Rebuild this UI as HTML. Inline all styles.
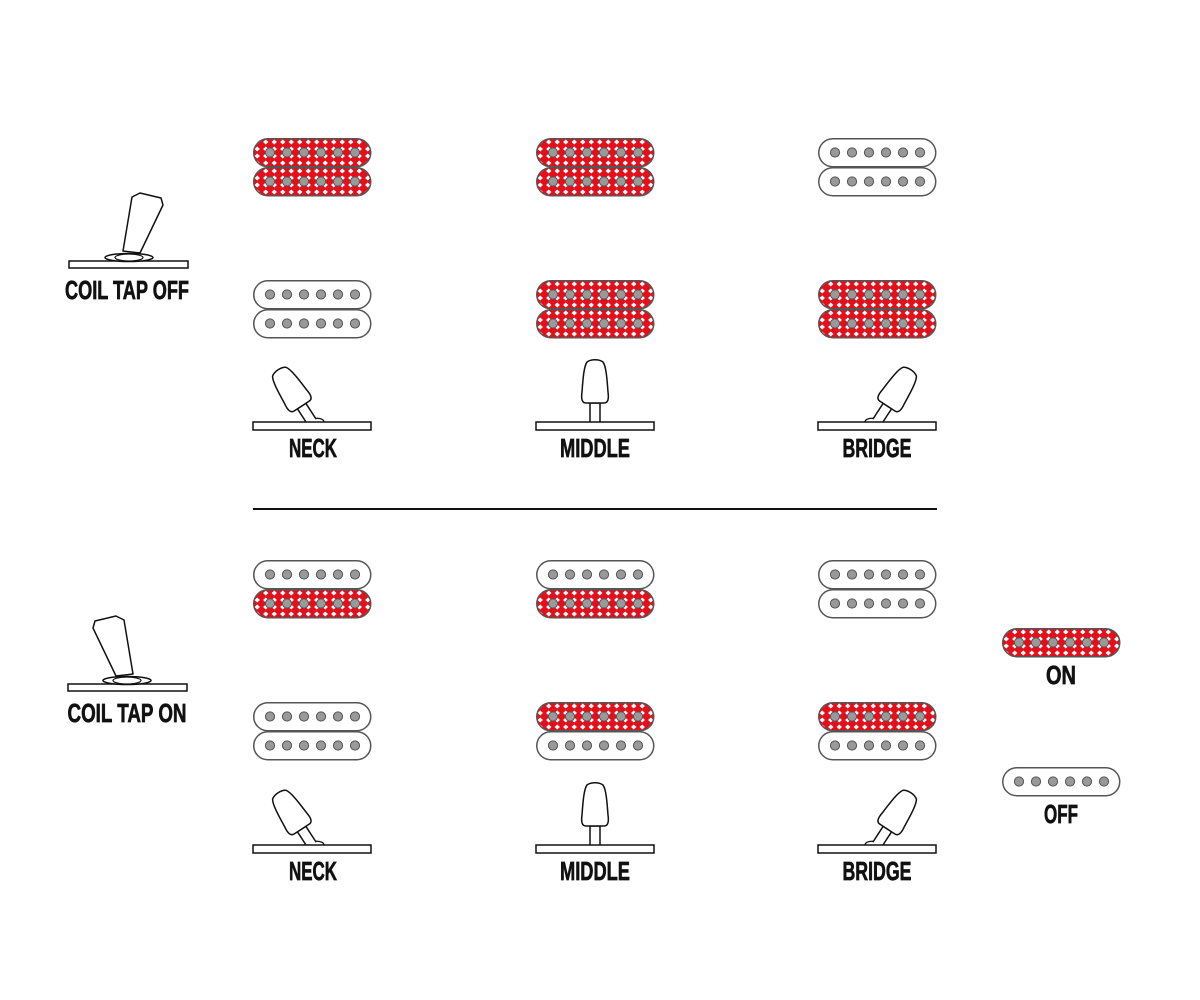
<!DOCTYPE html>
<html><head><meta charset="utf-8"><style>
html,body{margin:0;padding:0;background:#fff;}
svg{display:block}
text{font-family:"Liberation Sans Narrow","Liberation Sans",sans-serif;font-weight:bold;font-size:26px;fill:#111;stroke:#111;stroke-width:0.7;text-anchor:middle}
</style></head><body>
<svg width="1200" height="1000" viewBox="0 0 1200 1000" xmlns="http://www.w3.org/2000/svg">
<defs>
<pattern id="dia" x="0" y="0.5" width="8.5" height="7" patternUnits="userSpaceOnUse">
<rect width="8.5" height="7" fill="#e3101b"/>
<path d="M4.25,1 L6.9,3.5 L4.25,6 L1.6,3.5Z" fill="#fff"/>
</pattern>
<g id="dots">
<circle cx="17" cy="14.5" r="4.6" fill="#999" stroke="#555" stroke-width="1"/>
<circle cx="34" cy="14.5" r="4.6" fill="#999" stroke="#555" stroke-width="1"/>
<circle cx="51" cy="14.5" r="4.6" fill="#999" stroke="#555" stroke-width="1"/>
<circle cx="68" cy="14.5" r="4.6" fill="#999" stroke="#555" stroke-width="1"/>
<circle cx="85" cy="14.5" r="4.6" fill="#999" stroke="#555" stroke-width="1"/>
<circle cx="102" cy="14.5" r="4.6" fill="#999" stroke="#555" stroke-width="1"/>
</g>
<g id="cw"><rect x="0.75" y="0.75" width="117" height="28" rx="14" fill="#fff" stroke="#555" stroke-width="1.5"/><use href="#dots"/></g>
<g id="cr"><rect x="0.75" y="0.75" width="117" height="28" rx="14" fill="url(#dia)" stroke="#555" stroke-width="1.5"/><use href="#dots"/></g>
<g id="sw3">
<rect x="-59" y="0" width="118" height="8" fill="#fff" stroke="#111" stroke-width="1.5"/>
</g>
<g id="lever">
<path d="M-5,0 L-5,-19 L5,-19 L5,0" fill="#fff" stroke="#111" stroke-width="1.5"/>
<path d="M-9,-19 C-13,-19 -14,-23 -13,-30 C-12,-44 -11,-56 -8,-60 C-4,-63 4,-63 8,-60 C11,-56 12,-44 13,-30 C14,-23 13,-19 9,-19 Z" fill="#fff" stroke="#111" stroke-width="1.5"/>
</g>
<g id="tap">
<rect x="-59" y="0" width="119" height="7" fill="#fff" stroke="#111" stroke-width="1.5"/>
<ellipse cx="1" cy="-3.5" rx="24" ry="4" fill="#fff" stroke="#111" stroke-width="1.5"/>
<ellipse cx="1" cy="-3.5" rx="14" ry="3.5" fill="#fff" stroke="#111" stroke-width="1.2"/>
<polygon points="-5,-10 12,-8 35,-56 33,-63 12,-68 4,-64" fill="#fff" stroke="#111" stroke-width="1.5" stroke-linejoin="round"/>
</g>
</defs>

<use href="#cr" x="253" y="138"/><use href="#cr" x="253" y="167"/>
<use href="#cr" x="536" y="138"/><use href="#cr" x="536" y="167"/>
<use href="#cw" x="818" y="138"/><use href="#cw" x="818" y="167"/>
<use href="#cw" x="253" y="280"/><use href="#cw" x="253" y="309"/>
<use href="#cr" x="536" y="280"/><use href="#cr" x="536" y="309"/>
<use href="#cr" x="818" y="280"/><use href="#cr" x="818" y="309"/>

<g transform="translate(312,422)"><path d="M-4,0 C-2,-5 12,-5 12,0" fill="#fff" stroke="#111" stroke-width="1.3"/><use href="#lever" transform="rotate(-33)"/><use href="#sw3"/></g>
<g transform="translate(595,422)"><use href="#lever"/><use href="#sw3"/></g>
<g transform="translate(877,422)"><path d="M4,0 C2,-5 -12,-5 -12,0" fill="#fff" stroke="#111" stroke-width="1.3"/><use href="#lever" transform="rotate(33)"/><use href="#sw3"/></g>
<text x="313" y="457" textLength="48" lengthAdjust="spacingAndGlyphs">NECK</text>
<text x="595" y="457" textLength="70" lengthAdjust="spacingAndGlyphs">MIDDLE</text>
<text x="877" y="457" textLength="69" lengthAdjust="spacingAndGlyphs">BRIDGE</text>

<g transform="translate(128,261)"><use href="#tap"/></g>
<text x="127" y="299" textLength="124" lengthAdjust="spacingAndGlyphs">COIL TAP OFF</text>

<line x1="253" y1="509" x2="937" y2="509" stroke="#111" stroke-width="2"/>

<use href="#cw" x="253" y="560"/><use href="#cr" x="253" y="589"/>
<use href="#cw" x="536" y="560"/><use href="#cr" x="536" y="589"/>
<use href="#cw" x="818" y="560"/><use href="#cw" x="818" y="589"/>
<use href="#cw" x="253" y="702"/><use href="#cw" x="253" y="731"/>
<use href="#cr" x="536" y="702"/><use href="#cw" x="536" y="731"/>
<use href="#cr" x="818" y="702"/><use href="#cw" x="818" y="731"/>

<g transform="translate(312,845)"><path d="M-4,0 C-2,-5 12,-5 12,0" fill="#fff" stroke="#111" stroke-width="1.3"/><use href="#lever" transform="rotate(-33)"/><use href="#sw3"/></g>
<g transform="translate(595,845)"><use href="#lever"/><use href="#sw3"/></g>
<g transform="translate(877,845)"><path d="M4,0 C2,-5 -12,-5 -12,0" fill="#fff" stroke="#111" stroke-width="1.3"/><use href="#lever" transform="rotate(33)"/><use href="#sw3"/></g>
<text x="313" y="880" textLength="48" lengthAdjust="spacingAndGlyphs">NECK</text>
<text x="595" y="880" textLength="70" lengthAdjust="spacingAndGlyphs">MIDDLE</text>
<text x="877" y="880" textLength="69" lengthAdjust="spacingAndGlyphs">BRIDGE</text>

<g transform="translate(128,684) scale(-1,1)"><use href="#tap"/></g>
<text x="127" y="722" textLength="119" lengthAdjust="spacingAndGlyphs">COIL TAP ON</text>

<use href="#cr" x="1002" y="628"/>
<text x="1061" y="684" textLength="30" lengthAdjust="spacingAndGlyphs">ON</text>
<use href="#cw" x="1002" y="767"/>
<text x="1061" y="823" textLength="34" lengthAdjust="spacingAndGlyphs">OFF</text>
</svg>
</body></html>
